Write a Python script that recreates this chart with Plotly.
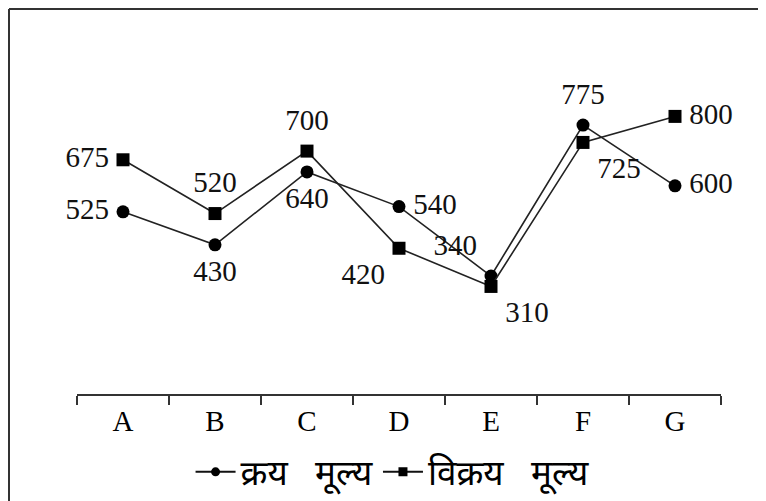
import plotly.graph_objects as go

categories = ["A", "B", "C", "D", "E", "F", "G"]
cost_price = [525, 430, 640, 540, 340, 775, 600]
sell_price = [675, 520, 700, 420, 310, 725, 800]
cost_name = "क्रय\u00a0\u00a0\u00a0मूल्य"
sell_name = "विक्रय\u00a0\u00a0\u00a0मूल्य"
cost_pos = ["middle left", "bottom center", "bottom center", "middle right",
            "top left", "top center", "middle right"]
sell_pos = ["middle left", "top center", "top center", "bottom left",
            "bottom right", "bottom right", "middle right"]

# page body has an 8px margin; figure sized to fit the window
W, H = 750, 493
L, R, T, B = 69, 37, 39, 107
pw, ph = W - L - R, H - T - B

serif = "Liberation Serif, Times New Roman, serif"
font_num = dict(family=serif, size=29, color="#111")

fig = go.Figure()
for name, vals, sym in [(cost_name, cost_price, "circle"), (sell_name, sell_price, "square")]:
    fig.add_trace(go.Scatter(
        x=categories, y=vals, name=name, showlegend=False,
        mode="lines+markers",
        line=dict(color="#222", width=1.6),
        marker=dict(symbol=sym, size=13, color="#000"),
        cliponaxis=False,
    ))
for vals, pos in [(cost_price, cost_pos), (sell_price, sell_pos)]:
    fig.add_trace(go.Scatter(
        x=categories, y=vals, mode="markers+text", showlegend=False,
        marker=dict(size=21, color="rgba(0,0,0,0)"),
        text=[str(v) for v in vals], textposition=pos, textfont=font_num,
        hoverinfo="skip", cliponaxis=False,
    ))
# legend entries (smaller symbols, as in the reference legend)
for name, sym in [(cost_name, "circle"), (sell_name, "square")]:
    fig.add_trace(go.Scatter(
        x=[None], y=[None], name=name, mode="lines+markers",
        line=dict(color="#111", width=2),
        marker=dict(symbol=sym, size=9, color="#000"),
    ))

# outer border frame: left and top edges
x_left = (1 - L) / pw
y_top = (H - B - 1) / ph
fig.add_shape(type="line", xref="paper", yref="paper",
              x0=x_left, x1=x_left, y0=(H - B - 600) / ph, y1=y_top,
              line=dict(color="#333", width=2))
fig.add_shape(type="line", xref="paper", yref="paper",
              x0=x_left, x1=(W + 20 - L) / pw, y0=y_top, y1=y_top,
              line=dict(color="#333", width=2))

fig.update_layout(
    width=W, height=H,
    margin=dict(l=L, r=R, t=T, b=B, autoexpand=False),
    paper_bgcolor="white", plot_bgcolor="white",
    showlegend=True,
    legend=dict(orientation="h", x=0.49, xanchor="center", y=-0.225, yanchor="middle",
                font=dict(family="Noto Sans, sans-serif", size=35, color="#000"),
                itemwidth=40, bgcolor="rgba(0,0,0,0)", traceorder="normal",
                tracegroupgap=0),
    xaxis=dict(
        type="category", showgrid=False, zeroline=False,
        showline=True, linecolor="#333", linewidth=2,
        ticks="outside", tickson="boundaries", ticklen=9, tickcolor="#333", tickwidth=2,
        tickfont=dict(family=serif, size=29, color="#000"),
        range=[-0.5, 6.5],
    ),
    yaxis=dict(range=[0, 1000], visible=False, showgrid=False, zeroline=False),
)

fig.write_html("out.html")
